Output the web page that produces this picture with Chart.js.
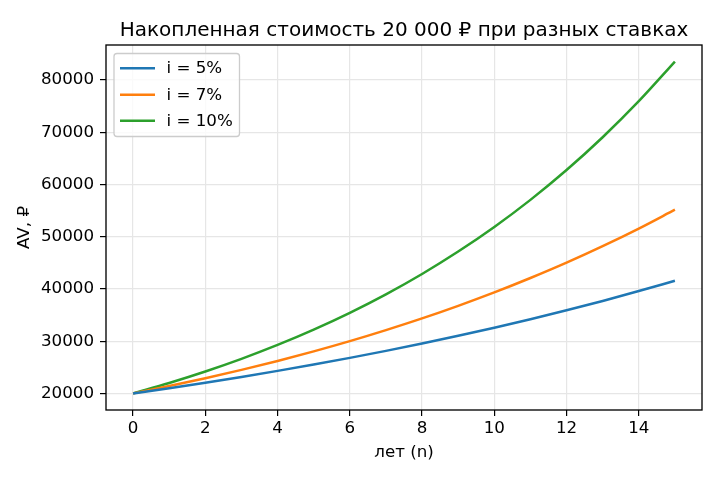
<!DOCTYPE html>
<html>
<head>
<meta charset="utf-8">
<script src="https://cdn.jsdelivr.net/npm/chart.js@4/dist/chart.umd.min.js"></script>
<style>
html,body{margin:0;padding:0;background:#fff;}
#wrap{width:720px;height:480px;}
</style>
</head>
<body>
<div id="wrap"><canvas id="c" width="720" height="480"></canvas></div>
<script>
const years = [0,1,2,3,4,5,6,7,8,9,10,11,12,13,14,15];
const av5  = [20000,21000,22050,23150,24310,25530,26800,28140,29550,31030,32580,34210,35920,37710,39600,41580];
const av7  = [20000,21400,22900,24500,26220,28050,30010,32120,34360,36770,39340,42100,45040,48200,51570,55180];
const av10 = [20000,22000,24200,26620,29280,32210,35430,38970,42870,47160,51870,57060,62770,69050,75950,83540];
const seriesLabels = ['i = 5%','i = 7%','i = 10%'];
const xTicks = [0,2,4,6,8,10,12,14];
const yTicks = [20000,30000,40000,50000,60000,70000,80000];
const titleText = 'Накопленная стоимость 20 000 ₽ при разных ставках';
const xLabel = 'лет (n)';
const yLabel = 'AV, ₽';

const colors = ['#1f77b4','#ff7f0e','#2ca02c'];
const FONT = '"DejaVu Sans", sans-serif';

function pts(v){ return years.map((n,i)=>({x:n,y:v[i]})); }

const extras = {
  id:'extras',
  afterDraw(chart){
    const ctx = chart.ctx, a = chart.chartArea;
    ctx.save();
    // frame
    ctx.strokeStyle = '#000'; ctx.lineWidth = 1.33;
    ctx.strokeRect(a.left, a.top, a.right-a.left, a.bottom-a.top);
    // title
    ctx.fillStyle = '#000';
    ctx.font = '20px ' + FONT;
    ctx.textAlign = 'center'; ctx.textBaseline = 'alphabetic';
    ctx.fillText(titleText, (a.left+a.right)/2, 36);
    // axis labels
    ctx.font = '16.7px ' + FONT;
    ctx.textBaseline = 'middle';
    ctx.fillText(xLabel, (a.left+a.right)/2, 453);
    ctx.save();
    ctx.translate(25, (a.top+a.bottom)/2);
    ctx.rotate(-Math.PI/2);
    ctx.fillText(yLabel, 0, 0);
    ctx.restore();
    // legend
    const lx = 114, ly = 53.5, lw = 125.5, lh = 83;
    ctx.beginPath();
    if (ctx.roundRect) ctx.roundRect(lx, ly, lw, lh, 3); else ctx.rect(lx, ly, lw, lh);
    ctx.fillStyle = 'rgba(255,255,255,0.8)';
    ctx.fill();
    ctx.strokeStyle = '#cccccc'; ctx.lineWidth = 1.3;
    ctx.stroke();
    const rows = [68.3, 94.7, 120.7];
    ctx.textAlign = 'left'; ctx.textBaseline = 'middle';
    ctx.font = '16.7px ' + FONT;
    chart.data.datasets.forEach((ds,i)=>{
      ctx.strokeStyle = ds.borderColor; ctx.lineWidth = 2.5;
      ctx.beginPath(); ctx.moveTo(120, rows[i]); ctx.lineTo(155, rows[i]); ctx.stroke();
      ctx.fillStyle = '#000';
      ctx.fillText(ds.label, 166.5, rows[i]+0.5);
    });
    ctx.restore();
  }
};

new Chart(document.getElementById('c'), {
  type:'line',
  data:{
    datasets:[av5,av7,av10].map((v,i)=>({
      label: seriesLabels[i],
      data: pts(v),
      borderColor: colors[i],
      backgroundColor: colors[i],
      borderWidth: 2.5,
      pointRadius: 0,
      cubicInterpolationMode: 'monotone',
      fill:false
    }))
  },
  options:{
    responsive:false,
    animation:false,
    devicePixelRatio:1,
    layout:{padding:{left:0,right:18,top:45,bottom:0}},
    plugins:{legend:{display:false}, title:{display:false}, tooltip:{enabled:false}},
    scales:{
      x:{
        type:'linear', min:-0.75, max:15.75,
        afterBuildTicks(s){ s.ticks = xTicks.map(v=>({value:v})); },
        afterFit(s){ s.height = 70; },
        grid:{color:'#e6e6e6', lineWidth:1.2, drawTicks:true, tickLength:6, tickColor:'#000', tickWidth:1.2},
        border:{display:false},
        ticks:{color:'#000', font:{family:FONT, size:16.7}, padding:3, maxRotation:0, autoSkip:false,
               callback:(v)=>String(v)}
      },
      y:{
        type:'linear', min:16820, max:86720,
        afterBuildTicks(s){ s.ticks = yTicks.map(v=>({value:v})); },
        afterFit(s){ s.width = 106; },
        grid:{color:'#e6e6e6', lineWidth:1.2, drawTicks:true, tickLength:6, tickColor:'#000', tickWidth:1.2},
        border:{display:false},
        ticks:{color:'#000', font:{family:FONT, size:16.7}, padding:6, autoSkip:false,
               callback:(v)=>String(v)}
      }
    }
  },
  plugins:[extras]
});
</script>
</body>
</html>
